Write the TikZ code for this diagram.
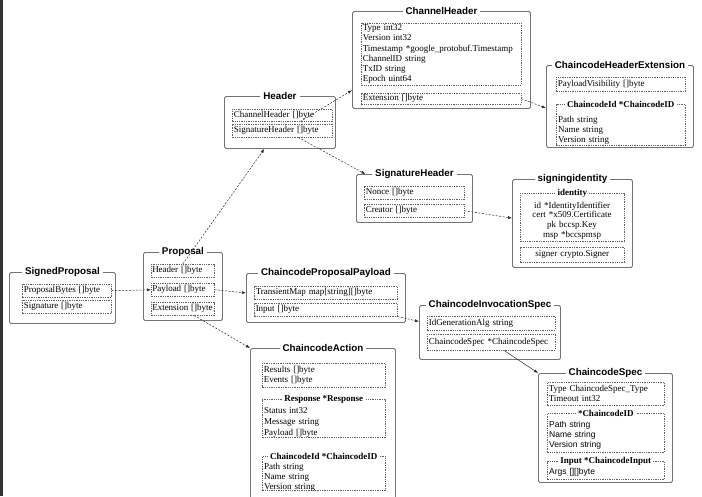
\documentclass[tikz,border=0pt]{standalone}
\usepackage{fontspec}
\setmainfont{Liberation Serif}
\setsansfont{Liberation Sans}
\usetikzlibrary{arrows.meta,calc}
\definecolor{boxgray}{RGB}{115,115,115}
\definecolor{fldgray}{RGB}{95,95,95}
\definecolor{linkc}{RGB}{40,40,40}
\begin{document}
\begin{tikzpicture}[x=1pt,y=-1pt,
 outer/.style={draw=boxgray, line width=0.9pt, rounded corners=1.5pt, anchor=north west, inner sep=0pt},
 fld/.style={draw=fldgray, line width=0.5pt, dash pattern=on 1.3pt off 1pt, anchor=north west, inner xsep=1.5pt, inner ysep=0pt, font=\fontsize{9}{10.2}\selectfont, align=left},
 ttl/.style={fill=white, inner xsep=3pt, inner ysep=0.5pt, font=\sffamily\bfseries\fontsize{9.8}{11}\selectfont},
 gttl/.style={fill=white, inner xsep=2pt, inner ysep=0.5pt, font=\bfseries\fontsize{9}{10}\selectfont},
 txt/.style={anchor=base west, inner sep=0pt, align=left, text width=110pt, font=\fontsize{9}{10.2}\selectfont},
 stxt/.style={anchor=base west, inner sep=0pt, align=left, text width=110pt, font=\sffamily\fontsize{8.5}{10}\selectfont},
 link/.style={draw=linkc, line width=0.5pt, dash pattern=on 2pt off 1.5pt, -{Latex[length=4pt,width=3pt]}},
]
\useasboundingbox (0,0) rectangle (702,496);
\begin{scope}
\clip (0,0) rectangle (702,496);
\fill[black!80] (0,0) rectangle (3,496);

% SignedProposal
\node[outer, minimum width=106pt, minimum height=51pt] (sp) at (9,272) {};
\node[ttl] (spt) at (sp.north) {SignedProposal};
\node[fld, text width=86pt, minimum height=13pt] (spB) at (22,284) {ProposalBytes []byte};
\node[fld, text width=86pt, minimum height=13pt] (spS) at (22,300) {Signature []byte};

% Proposal
\node[outer, minimum width=79pt, minimum height=68pt] (pr) at (143,252) {};
\node[ttl] (prt) at (pr.north) {Proposal};
\node[fld, inner xsep=1pt, text width=61pt, minimum height=13pt] (prH) at (151,264) {Header []byte};
\node[fld, inner xsep=1pt, text width=61pt, minimum height=13pt] (prP) at (151,283) {Payload []byte};
\node[fld, inner xsep=1pt, text width=61pt, minimum height=13pt] (prE) at (151,302) {\mbox{Extension []byte}};

% Header
\node[outer, minimum width=111pt, minimum height=52pt] (hd) at (224,96) {};
\node[ttl] (hdt) at (hd.north) {Header};
\node[fld, text width=97pt, minimum height=12pt] (hdC) at (232,109) {ChannelHeader []byte};
\node[fld, text width=97pt, minimum height=13pt] (hdS) at (232,124) {SignatureHeader []byte};

% ChannelHeader
\node[outer, minimum width=178pt, minimum height=97pt] (ch) at (352,11) {};
\node[ttl] (cht) at (ch.north) {ChannelHeader};
\node[fld, text width=157pt, minimum height=62pt] (chF) at (361,23) {Type int32\\Version int32\\Timestamp *google\_protobuf.Timestamp\\ChannelID string\\TxID string\\Epoch uint64};
\node[fld, text width=157pt, minimum height=11pt] (chE) at (361,93) {Extension []byte};

% ChaincodeHeaderExtension
\node[outer, minimum width=147pt, minimum height=82pt] (che) at (546,65) {};
\node[ttl] (chet) at (che.north) {ChaincodeHeaderExtension};
\node[fld, text width=126pt, minimum height=14pt] (cheP) at (556,77) {PayloadVisibility []byte};
\node[fld, text width=126pt, minimum height=41pt] (cheG) at (556,104) {};
\node[gttl] (cheGt) at (cheG.north) {ChaincodeId *ChaincodeID};
\node[txt] (cheGx) at (558,122) {Path string\\Name string\\Version string};

% SignatureHeader
\node[outer, minimum width=116pt, minimum height=48pt] (sh) at (356,174) {};
\node[ttl] (sht) at (sh.north) {SignatureHeader};
\node[fld, text width=97pt, minimum height=13pt] (shN) at (364,186) {Nonce []byte};
\node[fld, text width=97pt, minimum height=13pt] (shC) at (364,204) {Creator []byte};

% signingidentity
\node[outer, minimum width=120pt, minimum height=88pt] (si) at (512,179) {};
\node[ttl] (sit) at (si.north) {signingidentity};
\node[fld, text width=101pt, minimum height=48pt] (siI) at (520,193) {};
\node[gttl, inner ysep=0pt] (siIt) at (siI.north) {identity};
\node[anchor=base, inner sep=0pt, align=center, text width=100pt, font=\fontsize{9}{9.8}\selectfont] (siIx) at (572,208) {id *IdentityIdentifier\\cert *x509.Certificate\\pk bccsp.Key\\msp *bccspmsp};
\node[fld, text width=101pt, minimum height=15pt, align=center] (siS) at (520,247) {signer crypto.Signer};

% ChaincodeProposalPayload
\node[outer, minimum width=159pt, minimum height=49pt] (cpp) at (246,273) {};
\node[ttl] (cppt) at (cpp.north) {ChaincodeProposalPayload};
\node[fld, text width=140pt, minimum height=13pt] (cppT) at (254,286) {TransientMap map[string][]byte};
\node[fld, text width=140pt, minimum height=13pt] (cppI) at (254,303) {Input []byte};

% ChaincodeInvocationSpec
\node[outer, minimum width=141pt, minimum height=54pt] (cis) at (419,305) {};
\node[ttl] (cist) at (cis.north) {ChaincodeInvocationSpec};
\node[fld, text width=125pt, minimum height=14pt] (cisI) at (427,316) {IdGenerationAlg string};
\node[fld, text width=125pt, minimum height=16pt] (cisC) at (427,334) {ChaincodeSpec *ChaincodeSpec};

% ChaincodeAction
\node[outer, minimum width=145pt, minimum height=152pt] (ca) at (250,348) {};
\node[ttl] (cat) at (ca.north) {ChaincodeAction};
\node[fld, text width=120pt, minimum height=24pt] (caR) at (262,363) {Results []byte\\Events []byte};
\node[fld, text width=120pt, minimum height=38pt] (caS) at (262,399) {};
\node[gttl] (caSt) at (caS.north) {Response *Response};
\node[txt, font=\fontsize{9}{11}\selectfont] (caSx) at (264,413) {Status int32\\Message string\\Payload []byte};
\node[fld, text width=120pt, minimum height=34pt] (caI) at (262,456) {};
\node[gttl] (caIt) at (caI.north) {ChaincodeId *ChaincodeID};
\node[txt] (caIx) at (264,469) {Path string\\Name string\\Version string};

% ChaincodeSpec
\node[outer, minimum width=134pt, minimum height=109pt] (cs) at (538,373) {};
\node[ttl] (cst) at (cs.north) {ChaincodeSpec};
\node[fld, text width=114pt, minimum height=23pt] (csT) at (547,382) {Type ChaincodeSpec\_Type\\Timeout int32};
\node[fld, text width=114pt, minimum height=39pt] (csI) at (547,413) {};
\node[gttl] (csIt) at (csI.north) {*ChaincodeID};
\node[stxt] (csIx) at (549,427) {Path string\\Name string\\Version string};
\node[fld, text width=114pt, minimum height=18pt] (csN) at (547,461) {};
\node[gttl] (csNt) at (csN.north) {Input *ChaincodeInput};
\node[stxt] (csNx) at (549,474) {Args [][]byte};

% connectors
\draw[link] (spB.east) -- (prP.west);
\draw[link] (prP.east) -- ($(cpp.north west)!0.4!(cpp.south west)$);
\draw[link] (prH.north) -- ($(hd.south west)!0.36!(hd.south east)$);
\draw[link] ($(prE.south west)!0.68!(prE.south east)$) -- (ca.north west);
\draw[link] ($(hdC.south west)!0.68!(hdC.south east)$) -- ($(ch.north west)!0.81!(ch.south west)$);
\draw[link] ($(hdS.south west)!0.66!(hdS.south east)$) -- ($(sh.north west)!0.08!(sh.north east)$);
\draw[link] (chE.east) -- ($(che.north west)!0.52!(che.south west)$);
\draw[link] (shC.east) -- ($(si.north west)!0.44!(si.south west)$);
\draw[link] (cppI.south east) -- ($(cis.north west)!0.3!(cis.south west)$);
\draw[link, solid] ($(cisC.south west)!0.6!(cisC.south east)$) -- (cs.north west);
\end{scope}
\end{tikzpicture}
\end{document}
